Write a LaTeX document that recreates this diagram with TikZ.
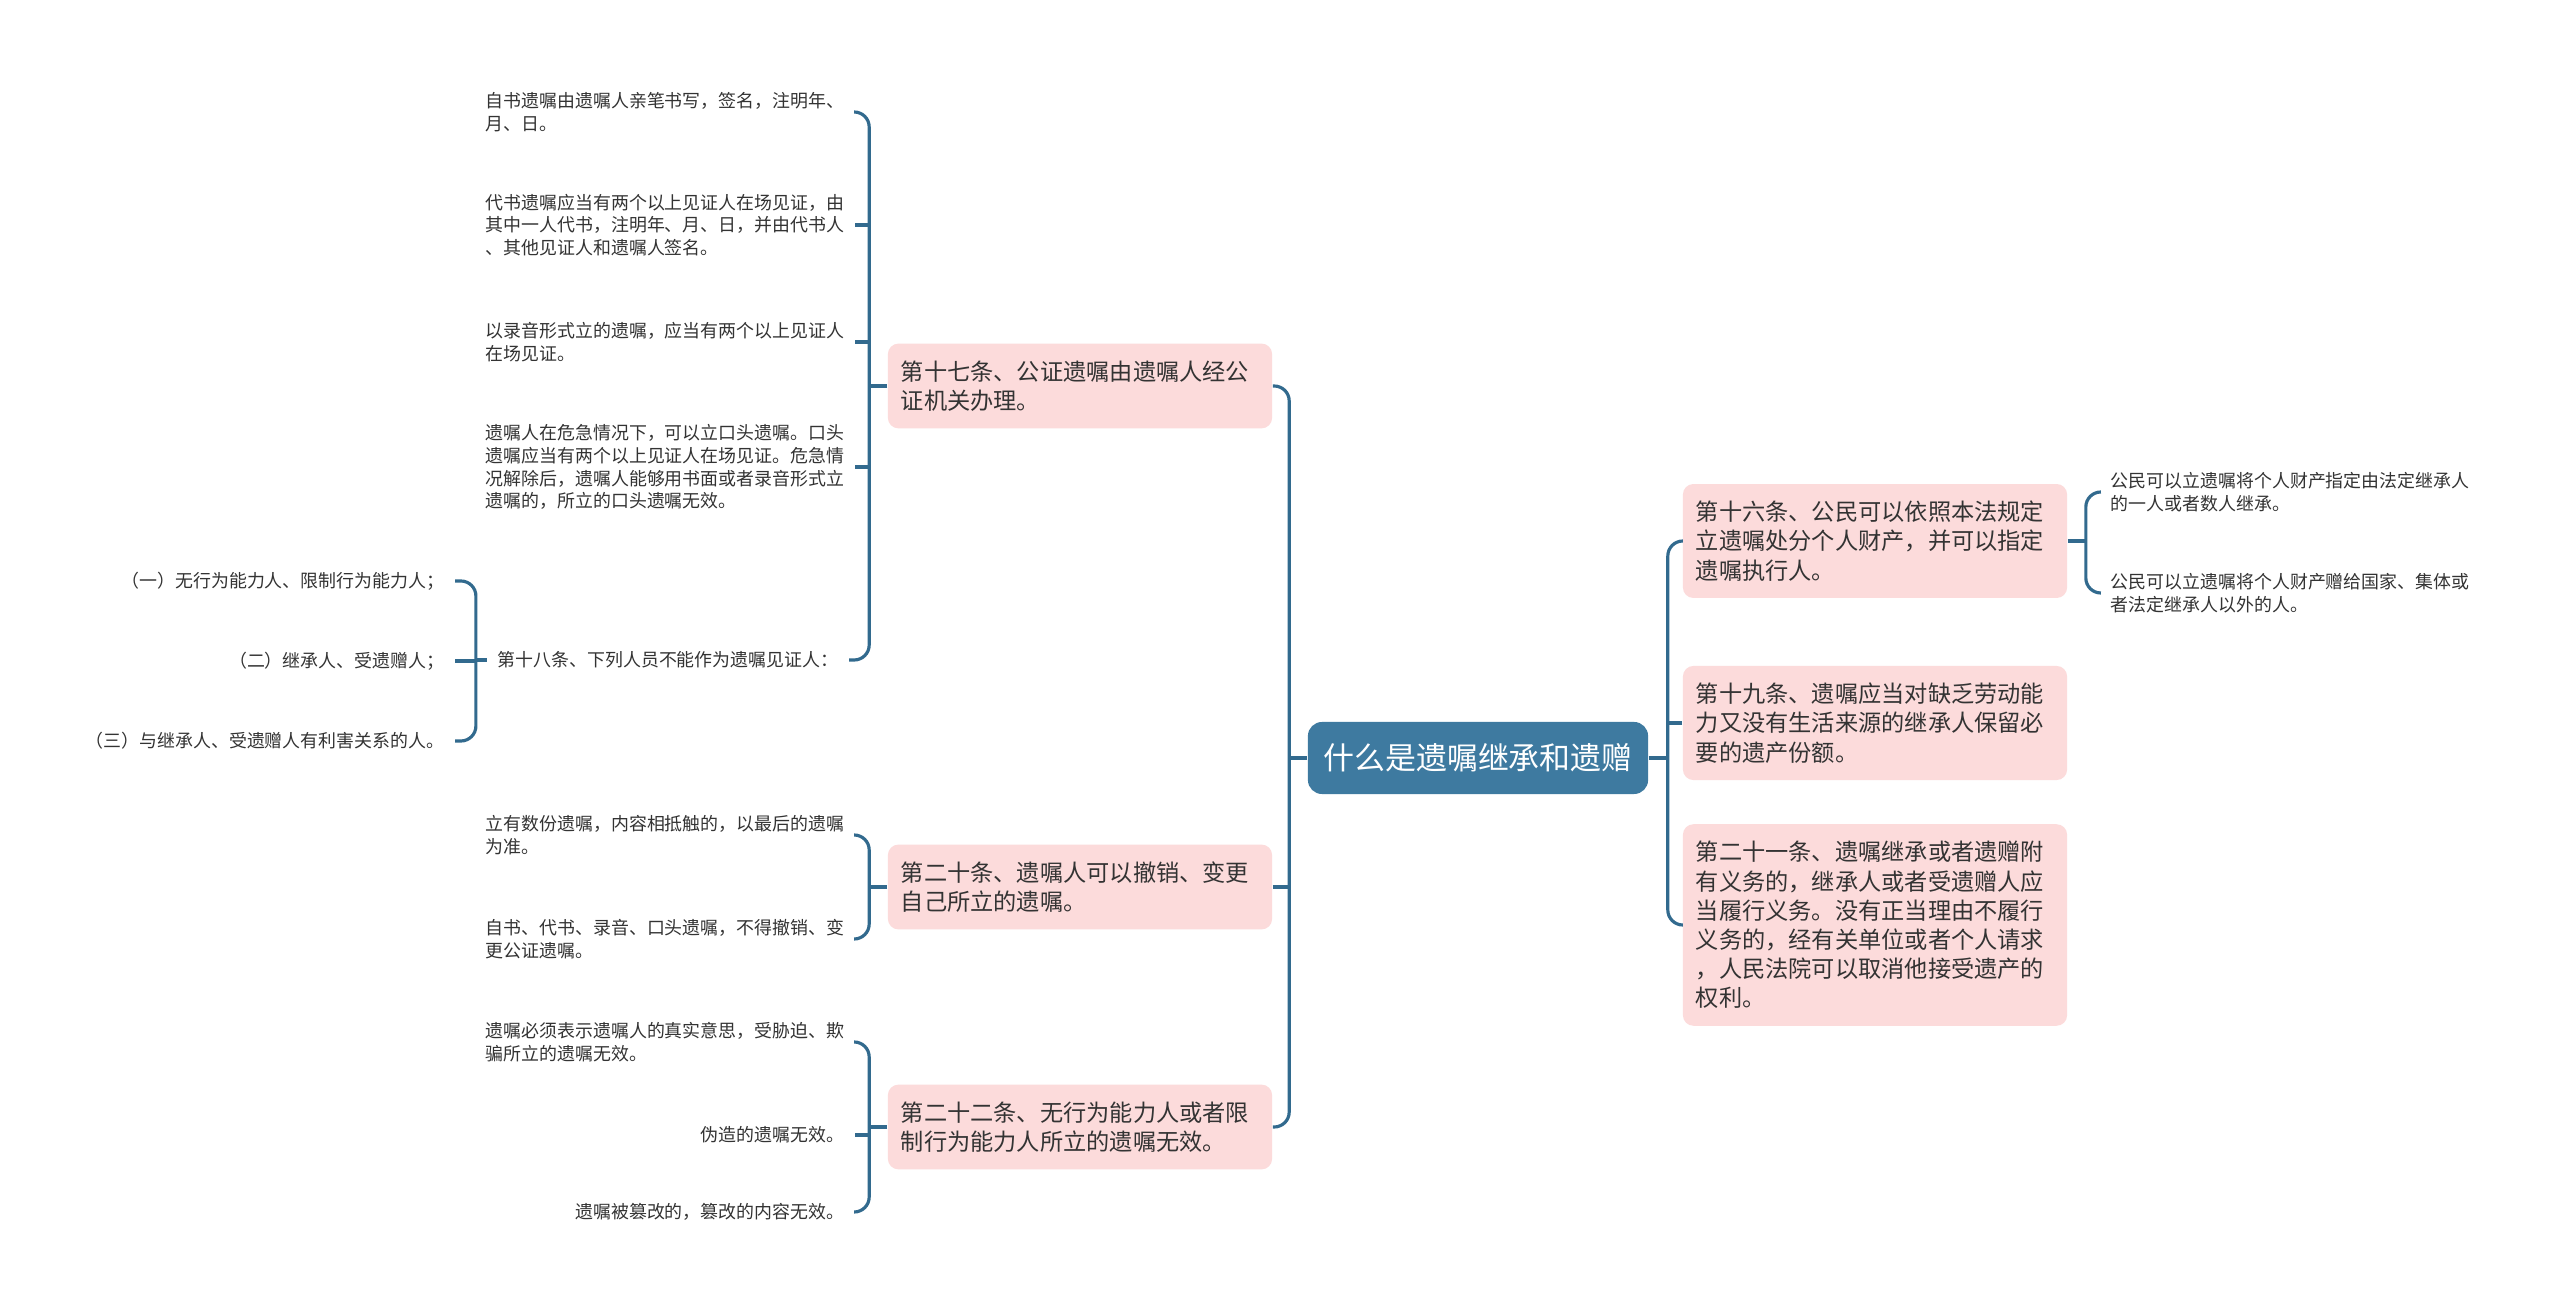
\documentclass[tikz,border=0pt]{standalone}
\usepackage{fontspec}
\setmainfont{Noto Sans CJK SC}
\usetikzlibrary{calc,positioning}
\definecolor{steel}{RGB}{62,122,160}
\definecolor{rose}{RGB}{252,219,219}
\definecolor{ink}{RGB}{51,51,51}
\definecolor{wire}{RGB}{50,106,142}
\tikzset{
  root/.style={fill=steel,text=white,rounded corners=4pt,minimum width=3.4cm,
    minimum height=0.72cm,inner sep=0pt,font=\fontsize{8.8pt}{10pt}\selectfont},
  topic/.style={fill=rose,text=ink,rounded corners=3pt,text width=3.58cm,align=left,
    inner xsep=0.13cm,inner ysep=0.17cm,font=\fontsize{6.6pt}{8.3pt}\selectfont},
  leaf/.style={text=ink,align=left,inner xsep=0.1cm,inner ysep=0.03cm,
    font=\fontsize{5.1pt}{6.5pt}\selectfont},
  wire/.style={draw=wire,line width=0.9pt},
  bracket/.style={wire,rounded corners=0.15cm},
}
\begin{document}
\begin{tikzpicture}[x=0.01cm,y=-0.01cm]
  \fill[white] (0,0) rectangle (2560,1313);
  \useasboundingbox (0,0) rectangle (2560,1313);

  \node[root] (will) at (1478,758) {什么是遗嘱继承和遗赠};

  % left topics
  \node[topic] (t17) at (1080,386) {第十七条、公证遗嘱由遗嘱人经公\\证机关办理。};
  \node[topic] (t20) at (1080,887) {第二十条、遗嘱人可以撤销、变更\\自己所立的遗嘱。};
  \node[topic] (t22) at (1080,1127) {第二十二条、无行为能力人或者限\\制行为能力人所立的遗嘱无效。};

  % right topics
  \node[topic] (t16) at (1875,541) {第十六条、公民可以依照本法规定\\立遗嘱处分个人财产，并可以指定\\遗嘱执行人。};
  \node[topic] (t19) at (1875,723) {第十九条、遗嘱应当对缺乏劳动能\\力又没有生活来源的继承人保留必\\要的遗产份额。};
  \node[topic] (t21) at (1875,925) {第二十一条、遗嘱继承或者遗赠附\\有义务的，继承人或者受遗赠人应\\当履行义务。没有正当理由不履行\\义务的，经有关单位或者个人请求\\，人民法院可以取消他接受遗产的\\权利。};

  % leaves of 17
  \node[leaf,anchor=east] (a1) at (855,112) {自书遗嘱由遗嘱人亲笔书写，签名，注明年、\\月、日。};
  \node[leaf,anchor=east] (a2) at (855,225) {代书遗嘱应当有两个以上见证人在场见证，由\\其中一人代书，注明年、月、日，并由代书人\\、其他见证人和遗嘱人签名。};
  \node[leaf,anchor=east] (a3) at (855,342) {以录音形式立的遗嘱，应当有两个以上见证人\\在场见证。};
  \node[leaf,anchor=east] (a4) at (855,467) {遗嘱人在危急情况下，可以立口头遗嘱。口头\\遗嘱应当有两个以上见证人在场见证。危急情\\况解除后，遗嘱人能够用书面或者录音形式立\\遗嘱的，所立的口头遗嘱无效。};
  \node[leaf] (d18) at (668,660) {第十八条、下列人员不能作为遗嘱见证人：};

  % leaves of 18
  \node[leaf,anchor=east] (b1) at (455,581) {（一）无行为能力人、限制行为能力人；};
  \node[leaf,anchor=east] (b2) at (455,661) {（二）继承人、受遗赠人；};
  \node[leaf,anchor=east] (b3) at (455,741) {（三）与继承人、受遗赠人有利害关系的人。};

  % leaves of 20
  \node[leaf,anchor=east] (c1) at (855,835) {立有数份遗嘱，内容相抵触的，以最后的遗嘱\\为准。};
  \node[leaf,anchor=east] (c2) at (855,939) {自书、代书、录音、口头遗嘱，不得撤销、变\\更公证遗嘱。};

  % leaves of 22
  \node[leaf,anchor=east] (e1) at (855,1042) {遗嘱必须表示遗嘱人的真实意思，受胁迫、欺\\骗所立的遗嘱无效。};
  \node[leaf,anchor=east] (e2) at (855,1135) {伪造的遗嘱无效。};
  \node[leaf,anchor=east] (e3) at (855,1212) {遗嘱被篡改的，篡改的内容无效。};

  % leaves of 16
  \node[leaf,anchor=west] (f1) at (2100,492) {公民可以立遗嘱将个人财产指定由法定继承人\\的一人或者数人继承。};
  \node[leaf,anchor=west] (f2) at (2100,593) {公民可以立遗嘱将个人财产赠给国家、集体或\\者法定继承人以外的人。};

  % brackets
  \coordinate (jl) at ($(will.west)+(-18,0)$);
  \coordinate (jr) at ($(will.east)+(19,0)$);
  \coordinate (j17) at ($(t17.west)+(-18,0)$);
  \coordinate (j18) at ($(d18.west)+(-11,0)$);
  \coordinate (j20) at ($(t20.west)+(-18,0)$);
  \coordinate (j22) at ($(t22.west)+(-18,0)$);
  \coordinate (j16) at ($(t16.east)+(18,0)$);

  \draw[wire] (will.west) -- (jl);
  \draw[bracket] (t17.east) -- (t17.east -| jl) -- (t22.east -| jl) -- (t22.east);
  \draw[wire] (t20.east) -- (t20.east -| jl);

  \draw[wire] (will.east) -- (jr);
  \draw[bracket] (t16.west) -- (t16.west -| jr) -- (t21.west -| jr) -- (t21.west);
  \draw[wire] (t19.west) -- (t19.west -| jr);

  \draw[wire] (t17.west) -- (j17);
  \draw[bracket] (a1.east) -- (a1.east -| j17) -- (d18.east -| j17) -- (d18.east);
  \foreach \n in {a2,a3,a4}
    \draw[wire] (\n.east) -- (\n.east -| j17);

  \draw[wire] (d18.west) -- (j18);
  \draw[bracket] (b1.east) -- (b1.east -| j18) -- (b3.east -| j18) -- (b3.east);
  \draw[wire] (b2.east) -- (b2.east -| j18);

  \draw[wire] (t20.west) -- (j20);
  \draw[bracket] (c1.east) -- (c1.east -| j20) -- (c2.east -| j20) -- (c2.east);

  \draw[wire] (t22.west) -- (j22);
  \draw[bracket] (e1.east) -- (e1.east -| j22) -- (e3.east -| j22) -- (e3.east);
  \draw[wire] (e2.east) -- (e2.east -| j22);

  \draw[wire] (t16.east) -- (j16);
  \draw[bracket] (f1.west) -- (f1.west -| j16) -- (f2.west -| j16) -- (f2.west);
\end{tikzpicture}
\end{document}
